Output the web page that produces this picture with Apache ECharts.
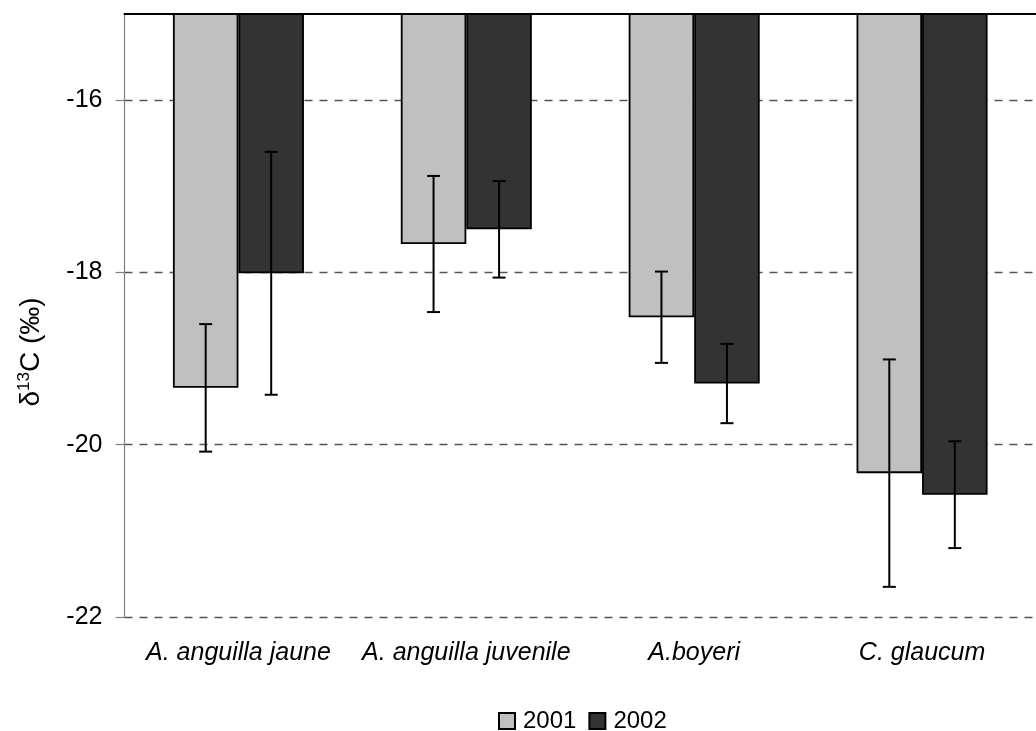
<!DOCTYPE html>
<html>
<head>
<meta charset="utf-8">
<script src="https://cdn.jsdelivr.net/npm/echarts@6/dist/echarts.min.js"></script>
<style>
  html, body { margin: 0; padding: 0; background: #fff; }
  #chart { width: 1036px; height: 731px; }
</style>
</head>
<body>
<div id="chart"></div>
<script>
// Species groups and sampling years
const categories = ['A. anguilla jaune', 'A. anguilla juvenile', 'A.boyeri', 'C. glaucum'];
const years = ['2001', '2002'];

// Mean δ13C (‰) per group and year
const mean2001 = [-19.34, -17.67, -18.52, -20.33];
const mean2002 = [-18.01, -17.50, -19.29, -20.58];

// Standard deviations (error bar half-lengths)
const sd2001 = [0.74, 0.79, 0.53, 1.32];
const sd2002 = [1.41, 0.56, 0.46, 0.62];

// Value axis ticks
const yTicks = [-22, -20, -18, -16];

const FONT = '"Liberation Sans", Arial, sans-serif';
const GAP = 0.425; // share of each category band left empty

function errorBarRenderer(side) {
  return function (params, api) {
    const cat = api.value(0);
    const lo = api.value(1);
    const hi = api.value(2);
    const band = api.size([1, 0])[0];
    const barW = band * (1 - GAP) / 2;
    const pLo = api.coord([cat, lo]);
    const pHi = api.coord([cat, hi]);
    const x = pLo[0] + side * barW / 2;
    const cap = 6.5;
    const st = { stroke: '#000', lineWidth: 2 };
    return {
      type: 'group',
      children: [
        { type: 'line', shape: { x1: x, y1: pHi[1], x2: x, y2: pLo[1] }, style: st },
        { type: 'line', shape: { x1: x - cap, y1: pHi[1], x2: x + cap, y2: pHi[1] }, style: st },
        { type: 'line', shape: { x1: x - cap, y1: pLo[1], x2: x + cap, y2: pLo[1] }, style: st }
      ]
    };
  };
}

function errorData(means, sds) {
  return means.map((m, i) => [i, m - sds[i], m + sds[i]]);
}

const chart = echarts.init(document.getElementById('chart'), null, { renderer: 'canvas' });

chart.setOption({
  animation: false,
  textStyle: { fontFamily: FONT },
  grid: { left: 124.5, right: -5, top: 14, bottom: 114, containLabel: false },
  legend: {
    data: years,
    left: 493,
    top: 704,
    icon: 'rect',
    itemWidth: 16,
    itemHeight: 16,
    itemGap: 12,
    textStyle: { fontSize: 24, color: '#000', fontFamily: FONT, padding: [0, 0, 0, 3] }
  },
  xAxis: [
    {
      type: 'category',
      data: categories,
      position: 'bottom',
      axisLine: { show: false },
      axisTick: { show: false },
      axisLabel: {
        interval: 0,
        fontSize: 25,
        fontStyle: 'italic',
        color: '#000',
        margin: 24,
        fontFamily: FONT
      }
    },
    {
      type: 'category',
      data: categories,
      position: 'top',
      axisLine: { show: true, lineStyle: { color: '#000', width: 2 } },
      axisTick: { show: false },
      axisLabel: { show: false }
    }
  ],
  yAxis: {
    type: 'value',
    min: -22,
    max: -15,
    interval: 2,
    axisLine: { show: true, lineStyle: { color: '#808080', width: 1.2 } },
    axisTick: { show: true, length: 9, lineStyle: { color: '#808080', width: 1.2 }, customValues: yTicks },
    axisLabel: { fontSize: 25, color: '#000', margin: 22, fontFamily: FONT, customValues: yTicks },
    splitLine: { show: true, lineStyle: { color: '#555', width: 1.3, type: [8, 7] } }
  },
  graphic: [
    {
      type: 'text',
      x: 31,
      y: 352,
      rotation: Math.PI / 2,
      style: {
        text: '{b|δ}{s|13}{b|C (‰)}',
        align: 'center',
        verticalAlign: 'middle',
        fill: '#000',
        rich: {
          b: { fontSize: 28, fontFamily: FONT, fill: '#000', lineHeight: 30 },
          s: { fontSize: 17, fontFamily: FONT, fill: '#000', verticalAlign: 'top', lineHeight: 30 }
        }
      }
    }
  ],
  series: [
    {
      name: '2001',
      type: 'bar',
      data: mean2001,
      barGap: '0%',
      barCategoryGap: (GAP * 100) + '%',
      clip: true,
      itemStyle: { color: '#c0c0c0', borderColor: '#000', borderWidth: 1.8 }
    },
    {
      name: '2002',
      type: 'bar',
      data: mean2002,
      barGap: '0%',
      barCategoryGap: (GAP * 100) + '%',
      clip: true,
      itemStyle: { color: '#333333', borderColor: '#000', borderWidth: 1.8 }
    },
    {
      name: 'err2001',
      type: 'custom',
      renderItem: errorBarRenderer(-1),
      data: errorData(mean2001, sd2001),
      encode: { x: 0, y: [1, 2] },
      z: 5,
      silent: true
    },
    {
      name: 'err2002',
      type: 'custom',
      renderItem: errorBarRenderer(1),
      data: errorData(mean2002, sd2002),
      encode: { x: 0, y: [1, 2] },
      z: 5,
      silent: true
    }
  ]
});
</script>
</body>
</html>
